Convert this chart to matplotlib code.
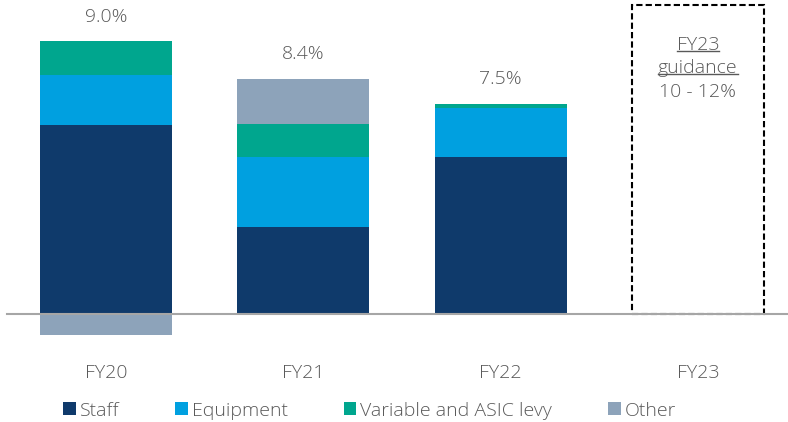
import matplotlib
matplotlib.use("Agg")
import matplotlib.pyplot as plt
from matplotlib.patches import Patch

plt.rcParams['font.family'] = ['Open Sans', 'DejaVu Sans']
plt.rcParams['font.weight'] = 'light'

categories = ["FY20", "FY21", "FY22", "FY23"]
staff = [6.75, 3.11, 5.61]
equipment = [1.77, 2.49, 1.74]
variable = [1.23, 1.20, 0.16]
other = [-0.75, 1.61, 0.0]
totals = ["9.0%", "8.4%", "7.5%"]
guidance_top = 11.04
guidance_lines = ["FY23", "guidance", "10 - 12%"]

colors = {"Staff": "#0f3a6b", "Equipment": "#00a0e0",
          "Variable and ASIC levy": "#00a68e", "Other": "#8da3ba"}
txt_color = "#595959"
fs = 14

fig = plt.figure(figsize=(7.88, 4.22), dpi=100)
ax = fig.add_axes([0, 0, 1, 1])
ax.set_xlim(-0.537, 3.457)
ax.set_ylim(-3.857, 11.214)
ax.axis("off")

w = 0.669
x = list(range(3))
ax.bar(x, staff, w, color=colors["Staff"], zorder=2)
b1 = staff
ax.bar(x, equipment, w, bottom=b1, color=colors["Equipment"], zorder=2)
b2 = [a + b for a, b in zip(b1, equipment)]
ax.bar(x, variable, w, bottom=b2, color=colors["Variable and ASIC levy"], zorder=2)
b3 = [a + b for a, b in zip(b2, variable)]
other_bottom = [b if o >= 0 else 0 for b, o in zip(b3, other)]
ax.bar(x, other, w, bottom=other_bottom, color=colors["Other"], zorder=2)

for i, t in enumerate(totals):
    top = b3[i] + max(other[i], 0)
    ax.text(i, top + 0.55, t, ha="center", va="bottom", fontsize=fs, color=txt_color)

# guidance box
ax.bar(3, guidance_top, w, fill=False, edgecolor="black", linestyle=(0, (3, 1.5)),
       linewidth=1.5, zorder=3)

# baseline
ax.plot([-0.502, 3.457], [0, 0], color="#a6a6a6", linewidth=1.5, zorder=4)

# category labels
for i, c in enumerate(categories):
    ax.text(i, -2.1, c, ha="center", va="center", fontsize=fs, color=txt_color)

# guidance text
gy = [9.62, 8.78, 7.93]
gtexts = []
for j, (s, yy) in enumerate(zip(guidance_lines, gy)):
    t = ax.text(3, yy, s, ha="center", va="center", fontsize=fs, color=txt_color)
    gtexts.append((t, j < 2))

fig.canvas.draw()
r = fig.canvas.get_renderer()
inv = ax.transData.inverted()
for t, ul in gtexts:
    if not ul:
        continue
    bb = t.get_window_extent(r)
    (x0, y0), (x1, y1) = inv.transform([(bb.x0, bb.y0 + 3), (bb.x1, bb.y0 + 3)])
    ax.plot([x0, x1], [y0, y1], color=txt_color, linewidth=1.0)

handles = [Patch(facecolor=v, edgecolor="none", label=k) for k, v in colors.items()]
fig.legend(handles=handles, loc="center", bbox_to_anchor=(0.469, 0.027), ncol=4,
           frameon=False, fontsize=fs, labelcolor=txt_color,
           handlelength=0.63, handleheight=0.63, handletextpad=0.2,
           columnspacing=2.9, borderpad=0, borderaxespad=0)

fig.savefig("out.png", dpi=100)
